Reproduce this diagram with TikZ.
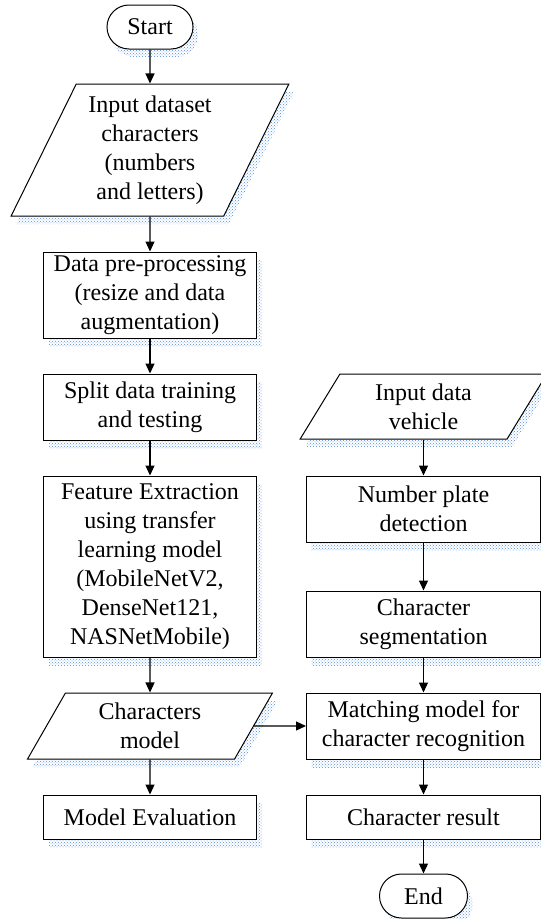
\documentclass[tikz,border=0pt]{standalone}
\usepackage{fontspec}
\setmainfont{Liberation Serif}
\usetikzlibrary{shapes.geometric,shapes.misc,arrows.meta,shadows,patterns}

\definecolor{shadowblue}{RGB}{80,140,220}
\tikzset{
  box/.style={draw, line width=1pt, fill=white, align=center, inner sep=0pt,
    font=\fontsize{24}{29}\selectfont,
    drop shadow={shadow xshift=5pt, shadow yshift=-8pt, opacity=1,
      pattern=crosshatch dots, pattern color=shadowblue}},
  term/.style={box, rounded rectangle, minimum width=86pt, minimum height=44pt},
  proc/.style={box, rectangle, minimum width=234pt, minimum height=66pt},
  io/.style={box, trapezium, trapezium left angle=63.4, trapezium right angle=116.6,
    trapezium stretches=true},
  arr/.style={line width=1.2pt, -{Triangle[length=10pt,width=9pt]}}
}

\begin{document}
\begin{tikzpicture}[x=1pt,y=-1pt]
	\useasboundingbox (0,0) rectangle (541,919);
	% left column
	\node[term] (start) at (150,27) {Start};
	\node[io, minimum width=278pt, minimum height=132pt] (indata) at (150,150) {Input dataset\\characters\\(numbers\\and letters)};
	\node[proc, minimum width=213pt, minimum height=86pt] (prep) at (150,295) {Data pre-processing\\(resize and data\\augmentation)};
	\node[proc, minimum width=213pt] (split) at (150,407) {Split data training\\and testing};
	\node[proc, minimum width=213pt, minimum height=181pt] (feat) at (150,566.5) {Feature Extraction\\using transfer\\learning model\\(MobileNetV2,\\DenseNet121,\\NASNetMobile)};
	\node[io, minimum width=245pt, minimum height=66pt] (charmod) at (150,726) {Characters\\model};
	\node[proc, minimum width=213pt, minimum height=44pt] (evalm) at (150,817) {Model Evaluation};
	% right column
	\node[io, minimum width=247pt, minimum height=65pt] (vehicle) at (423.5,406.5) {Input data\\vehicle};
	\node[proc] (plate) at (423.5,509) {Number plate\\detection};
	\node[proc] (seg) at (423.5,624) {Character\\segmentation};
	\node[proc] (match) at (423.5,726) {Matching model for\\character recognition};
	\node[proc, minimum height=44pt] (result) at (423.5,817) {Character result};
	\node[term, minimum width=88pt] (stop) at (423.5,896) {End};
	% arrows
	\draw[arr] (start) -- (indata);
	\draw[arr] (indata) -- (prep);
	\draw[arr] (prep) -- (split);
	\draw[arr] (split) -- (feat);
	\draw[arr] (feat) -- (charmod);
	\draw[arr] (charmod) -- (evalm);
	\draw[arr] (charmod.east) -- (match.west);
	\draw[arr] (vehicle) -- (plate);
	\draw[arr] (plate) -- (seg);
	\draw[arr] (seg) -- (match);
	\draw[arr] (match) -- (result);
	\draw[arr] (result) -- (stop);
\end{tikzpicture}
\end{document}
